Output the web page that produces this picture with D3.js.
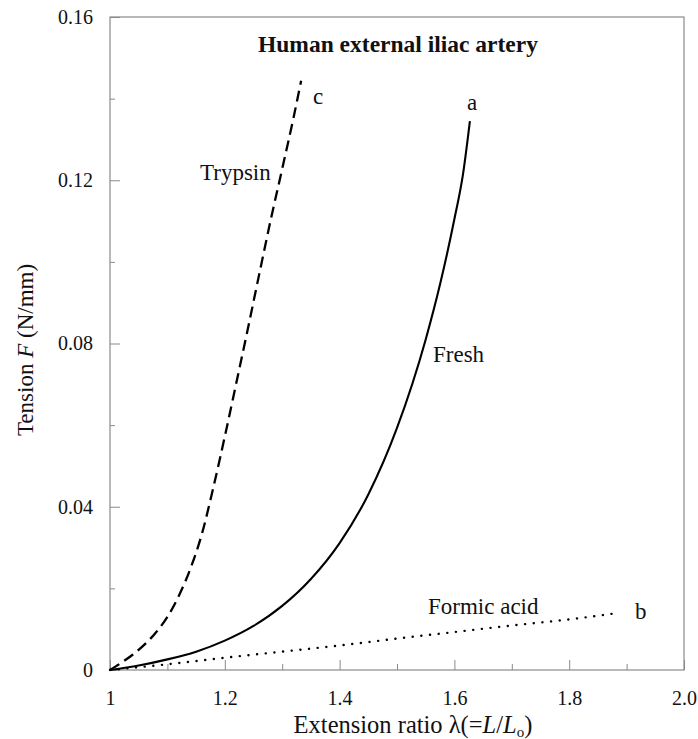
<!DOCTYPE html>
<html>
<head>
<meta charset="utf-8">
<script src="https://cdn.jsdelivr.net/npm/d3@7"></script>
<style>
  html, body { margin: 0; padding: 0; background: #fff; }
  svg { display: block; }
  svg text { font-family: "Liberation Serif", "DejaVu Serif", serif; fill: #111; }
</style>
</head>
<body>
<svg id="chart" width="698" height="739"></svg>
<script>
// ---- data ----
const xMajorTicks = [1.0, 1.2, 1.4, 1.6, 1.8, 2.0];
const xTickLabels = ["1", "1.2", "1.4", "1.6", "1.8", "2.0"];
const xMinorTicks = [1.1, 1.3, 1.5, 1.7, 1.9];
const yMajorTicks = [0, 0.04, 0.08, 0.12, 0.16];
const yTickLabels = ["0", "0.04", "0.08", "0.12", "0.16"];
const yMinorTicks = [0.02, 0.06, 0.10, 0.14];

// Fresh (a) - solid
const freshX = [1.0, 1.05, 1.10, 1.15, 1.20, 1.25, 1.30, 1.35, 1.40, 1.45, 1.50, 1.55, 1.575, 1.60, 1.615, 1.627];
const freshY = [0, 0.0011, 0.0026, 0.0045, 0.0072, 0.0108, 0.0157, 0.0223, 0.0311, 0.0430, 0.0593, 0.0810, 0.0945, 0.1105, 0.1215, 0.1345];
// Formic acid (b) - dotted
const formicX = [1.0, 1.1, 1.2, 1.3, 1.4, 1.5, 1.6, 1.7, 1.8, 1.887];
const formicY = [0, 0.0014, 0.003, 0.0045, 0.006, 0.0077, 0.0093, 0.0109, 0.0124, 0.014];
// Trypsin (c) - dashed
const trypsinX = [1.0, 1.02, 1.04, 1.06, 1.08, 1.10, 1.12, 1.14, 1.16, 1.18, 1.20, 1.22, 1.24, 1.26, 1.28, 1.30, 1.32, 1.333];
const trypsinY = [0, 0.0018, 0.0038, 0.0062, 0.0092, 0.0130, 0.0182, 0.0248, 0.0333, 0.0447, 0.0572, 0.0703, 0.0835, 0.0970, 0.1103, 0.1228, 0.1355, 0.1444];

const title = "Human external iliac artery";

// ---- layout ----
const svg = d3.select("#chart");
const mLeft = 110, mRight = 684, mTop = 17, mBottom = 670;

const x = d3.scaleLinear().domain([1.0, 2.0]).range([mLeft, mRight]);
const y = d3.scaleLinear().domain([0, 0.16]).range([mBottom, mTop]);

const axisGrey = "#8a8a8a";
const serif = "Liberation Serif";

// frame
svg.append("rect")
  .attr("x", mLeft).attr("y", mTop)
  .attr("width", mRight - mLeft).attr("height", mBottom - mTop)
  .attr("fill", "none").attr("stroke", axisGrey).attr("stroke-width", 1.2);

// x axis minor
svg.append("g").attr("transform", `translate(0,${mBottom})`)
  .call(d3.axisBottom(x).tickValues(xMinorTicks).tickSize(-6).tickFormat(""))
  .call(g => g.select(".domain").remove())
  .call(g => g.selectAll("line").attr("stroke", axisGrey));
// x axis major
svg.append("g").attr("transform", `translate(0,${mBottom})`)
  .attr("font-family", serif)
  .call(d3.axisBottom(x).tickValues(xMajorTicks).tickSize(-10).tickPadding(21)
    .tickFormat((d, i) => xTickLabels[i]))
  .attr("font-family", serif)
  .call(g => g.select(".domain").remove())
  .call(g => g.selectAll("line").attr("stroke", axisGrey))
  .call(g => g.selectAll("text").attr("font-size", 20).attr("fill", "#1a1a1a"));

// y axis minor
svg.append("g").attr("transform", `translate(${mLeft},0)`)
  .call(d3.axisLeft(y).tickValues(yMinorTicks).tickSize(-5).tickFormat(""))
  .call(g => g.select(".domain").remove())
  .call(g => g.selectAll("line").attr("stroke", axisGrey));
// y axis major
svg.append("g").attr("transform", `translate(${mLeft},0)`)
  .call(d3.axisLeft(y).tickValues(yMajorTicks).tickSize(-10).tickPadding(17)
    .tickFormat((d, i) => yTickLabels[i]))
  .attr("font-family", serif)
  .call(g => g.select(".domain").remove())
  .call(g => g.selectAll("line").attr("stroke", axisGrey))
  .call(g => g.selectAll("text").attr("font-size", 20).attr("fill", "#1a1a1a"));

// curves
const line = d3.line().x(d => x(d[0])).y(d => y(d[1])).curve(d3.curveMonotoneX);
const zip = (a, b) => a.map((v, i) => [v, b[i]]);

svg.append("path").datum(zip(freshX, freshY)).attr("d", line)
  .attr("fill", "none").attr("stroke", "#000").attr("stroke-width", 2.1);
svg.append("path").datum(zip(trypsinX, trypsinY)).attr("d", line)
  .attr("fill", "none").attr("stroke", "#000").attr("stroke-width", 2.3)
  .attr("stroke-dasharray", "11,6");
svg.append("path").datum(zip(formicX, formicY)).attr("d", line)
  .attr("fill", "none").attr("stroke", "#000").attr("stroke-width", 2.4)
  .attr("stroke-linecap", "round").attr("stroke-dasharray", "0.1,8.6");

// title
svg.append("text").attr("x", 398).attr("y", 52).attr("text-anchor", "middle")
  .attr("font-family", serif).attr("font-size", 23.5).attr("font-weight", "bold").text(title);

// curve labels
const lab = (t, px, py) => svg.append("text").attr("x", px).attr("y", py)
  .attr("font-family", serif).attr("font-size", 23).text(t);
lab("c", 313, 104);
lab("a", 467, 110);
lab("b", 635, 619);
lab("Trypsin", 200, 180);
lab("Fresh", 433, 362);
lab("Formic acid", 428, 614);

// x axis title
const xt = svg.append("text").attr("x", 413).attr("y", 733).attr("text-anchor", "middle")
  .attr("font-family", serif).attr("font-size", 24.5);
xt.append("tspan").text("Extension ratio λ(=");
xt.append("tspan").attr("font-style", "italic").text("L");
xt.append("tspan").text("/");
xt.append("tspan").attr("font-style", "italic").text("L");
xt.append("tspan").attr("font-size", 15).attr("dy", 4).text("o");
xt.append("tspan").attr("dy", -4).text(")");

// y axis title
const yt = svg.append("text").attr("transform", "translate(33,350) rotate(-90)")
  .attr("text-anchor", "middle").attr("font-family", serif).attr("font-size", 23);
yt.append("tspan").text("Tension ");
yt.append("tspan").attr("font-style", "italic").text("F");
yt.append("tspan").text(" (N/mm)");
</script>
</body>
</html>
